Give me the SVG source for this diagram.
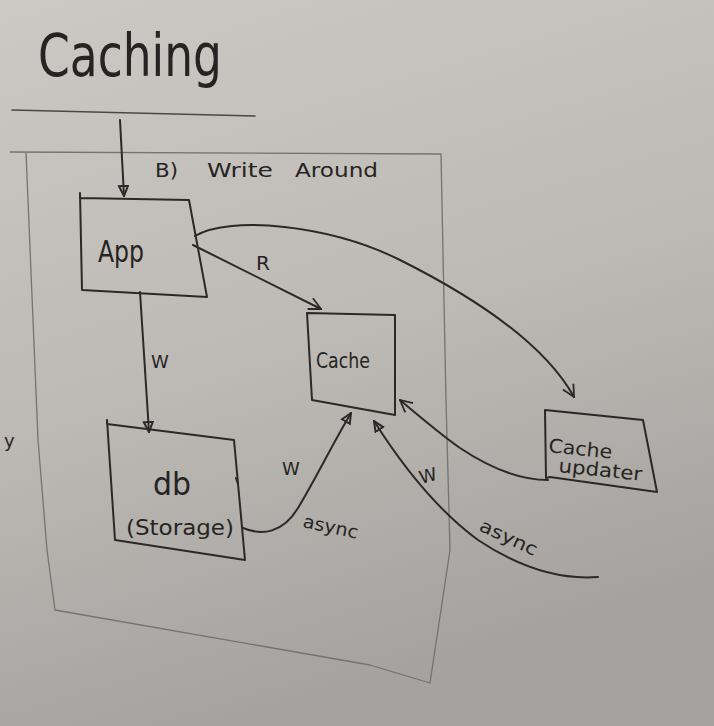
<svg xmlns="http://www.w3.org/2000/svg" width="714" height="726" viewBox="0 0 714 726">
<defs>
<linearGradient id="bg" x1="0" y1="0" x2="0.3" y2="1">
<stop offset="0" stop-color="#ccc9c5"/>
<stop offset="0.55" stop-color="#bdbab6"/>
<stop offset="1" stop-color="#a5a29f"/>
</linearGradient>
<marker id="tri" viewBox="0 0 12 12" refX="11" refY="6" markerWidth="12" markerHeight="12" markerUnits="userSpaceOnUse" orient="auto">
<path d="M1,1.5 L11,6 L1,10.5 Z" fill="none" stroke="#2b2927" stroke-width="2"/>
</marker>
<marker id="chev" viewBox="0 0 14 14" refX="13" refY="7" markerWidth="14" markerHeight="14" markerUnits="userSpaceOnUse" orient="auto">
<path d="M1,1 L13,7 L1,13" fill="none" stroke="#2b2927" stroke-width="1.8"/>
</marker>
</defs>
<style>
.ink{fill:none;stroke:#2b2927;stroke-width:2;stroke-linejoin:round;stroke-linecap:round}
.thin{fill:none;stroke:#4a4845;stroke-width:1.6;stroke-linecap:round}
.frame{fill:none;stroke:#75726f;stroke-width:1.3;stroke-linejoin:round}
.t{font-family:"DejaVu Sans","Liberation Sans",sans-serif;fill:#262422}
</style>
<rect width="714" height="726" fill="url(#bg)"/>

<g id="title">
<text class="t" x="38" y="76" font-size="58" textLength="184" lengthAdjust="spacingAndGlyphs">Caching</text>
<path class="thin" d="M12,110 L255,116"/>
</g>

<g id="frame">
<path class="frame" d="M10,152 L441,154 L446,400 L450,550 L430,683 L370,665 L55,610 L47,550 L38,440 L26,152"/>
<text class="t" x="155" y="177" font-size="20" textLength="23" lengthAdjust="spacingAndGlyphs">B)</text>
<text class="t" x="207" y="177" font-size="20" textLength="66" lengthAdjust="spacingAndGlyphs">Write</text>
<text class="t" x="295" y="177" font-size="20" textLength="83" lengthAdjust="spacingAndGlyphs">Around</text>
<text class="t" x="4" y="447" font-size="18">y</text>
</g>

<g id="app">
<path class="ink" d="M80,193 L80,198 L189,200 L207,297 L82,290 L80,193"/>
<text class="t" x="98" y="262" font-size="30" textLength="46" lengthAdjust="spacingAndGlyphs">App</text>
</g>

<g id="cache">
<path class="ink" d="M307,313 L395,315 L395,415 L312,400 Z"/>
<text class="t" x="316" y="368" font-size="22" textLength="54" lengthAdjust="spacingAndGlyphs">Cache</text>
</g>

<g id="db">
<path class="ink" d="M107,420 L107,424 L234,440 L245,560 L115,540 Z"/>
<path class="ink" d="M236,478 L238,484"/>
<text class="t" x="153" y="495" font-size="32" textLength="38" lengthAdjust="spacingAndGlyphs">db</text>
<text class="t" x="126" y="535" font-size="22" textLength="108" lengthAdjust="spacingAndGlyphs">(Storage)</text>
</g>

<g id="cache-updater">
<path class="ink" d="M545,410 L643,420 L657,492 L550,477 L546,478 Z"/>
<text class="t" x="548" y="452" font-size="19" textLength="64" lengthAdjust="spacingAndGlyphs" transform="rotate(6 548 452)">Cache</text>
<text class="t" x="558" y="472" font-size="19" textLength="84" lengthAdjust="spacingAndGlyphs" transform="rotate(6 558 472)">updater</text>
</g>

<g id="connectors">
<path class="ink" d="M120,120 L124,196" marker-end="url(#tri)"/>
<path class="ink" d="M193,245 L321,309" marker-end="url(#chev)"/>
<text class="t" x="256" y="270" font-size="20">R</text>
<path class="ink" d="M195,236 C230,215 330,225 400,260 C480,300 545,345 574,397" marker-end="url(#chev)"/>
<path class="ink" d="M140,292 L149,432" marker-end="url(#tri)"/>
<text class="t" x="151" y="368" font-size="18">W</text>
<path class="ink" d="M243,528 C262,536 283,533 298,508 C315,480 332,445 351,413" marker-end="url(#tri)"/>
<text class="t" x="282" y="475" font-size="18">W</text>
<text class="t" x="302" y="527" font-size="18" textLength="56" lengthAdjust="spacingAndGlyphs" transform="rotate(12 302 527)">async</text>
<path class="ink" d="M548,480 C520,480 490,468 460,448 C440,434 420,417 400,400" marker-end="url(#chev)"/>
<path class="ink" d="M598,577 C560,580 520,568 478,540 C440,512 405,470 374,421" marker-end="url(#tri)"/>
<text class="t" x="421" y="484" font-size="18" transform="rotate(-15 421 484)">W</text>
<text class="t" x="478" y="530" font-size="18" textLength="62" lengthAdjust="spacingAndGlyphs" transform="rotate(25 478 530)">async</text>
</g>
</svg>
